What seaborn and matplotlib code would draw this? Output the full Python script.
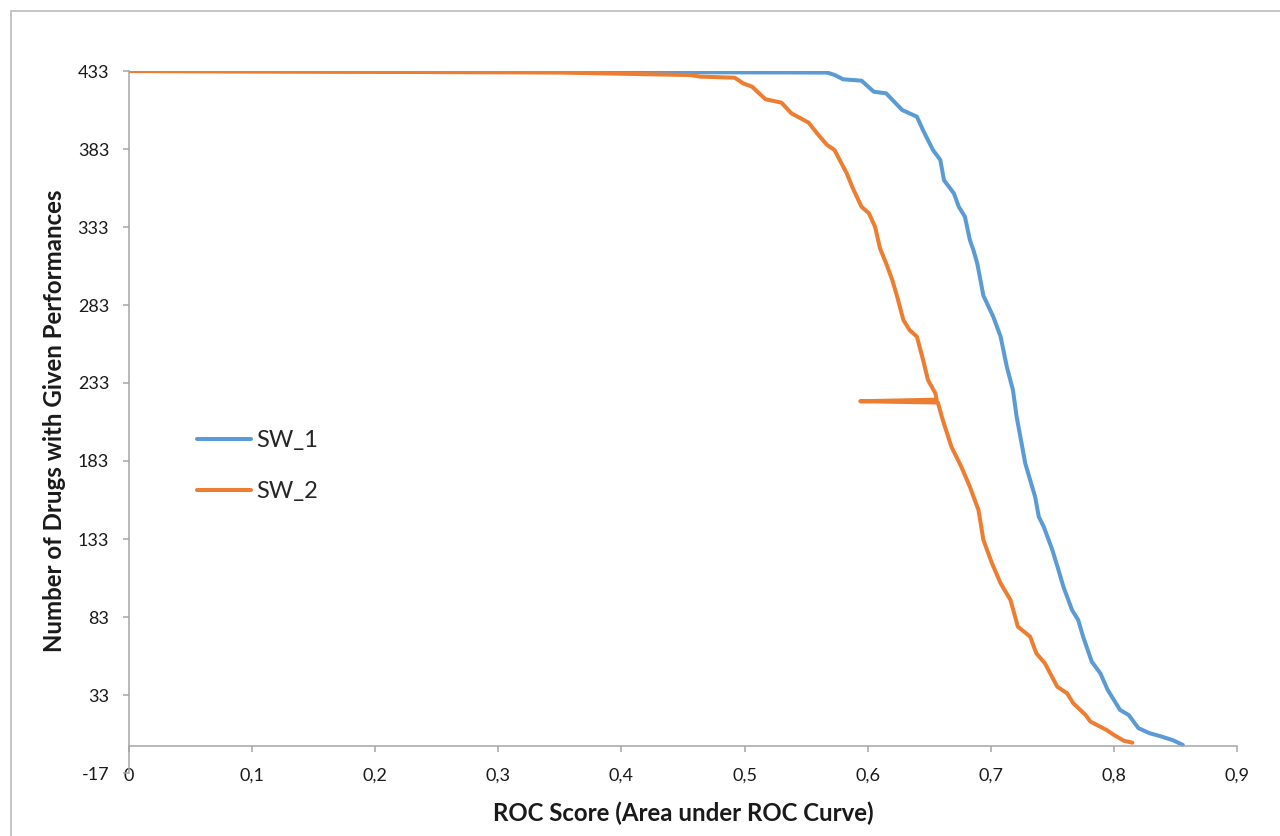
import numpy as np
import pandas as pd
import matplotlib
matplotlib.use('Agg')
import matplotlib.pyplot as plt
import seaborn as sns
from matplotlib.ticker import FuncFormatter
from matplotlib.lines import Line2D

# ---- data ----
series_names = ['SW_1', 'SW_2']
series_colors = ['#5B9BD5', '#ED7D31']

sw1_x = [0.000, 0.567, 0.573, 0.580, 0.595, 0.605, 0.615, 0.628, 0.640, 0.645,
         0.653, 0.659, 0.662, 0.670, 0.674, 0.679, 0.683, 0.686, 0.689, 0.694,
         0.702, 0.708, 0.713, 0.718, 0.721, 0.725, 0.728, 0.732, 0.736, 0.739,
         0.743, 0.750, 0.755, 0.759, 0.766, 0.771, 0.775, 0.782, 0.789, 0.795,
         0.805, 0.812, 0.820, 0.829, 0.839, 0.848, 0.856]
sw1_y = [433, 432, 430.5, 427.7, 426.8, 419.7, 418.7, 408, 403.7, 395,
         382.4, 376, 363, 354.6, 346, 339.6, 324.7, 318, 309.7, 289,
         275.5, 262.7, 243.5, 228.5, 211.4, 194.4, 181.5, 170.8, 160.1, 147.3,
         140.9, 126, 113.1, 102.4, 87.5, 81.1, 70.4, 54.4, 46.9, 36.2,
         23.4, 20.2, 11.7, 8.5, 6.3, 4, 1]

sw2_x = [0.000, 0.350, 0.456, 0.464, 0.492, 0.499, 0.506, 0.517, 0.530, 0.538,
         0.552, 0.560, 0.567, 0.573, 0.583, 0.588, 0.595, 0.601, 0.606, 0.610,
         0.615, 0.620, 0.624, 0.629, 0.634, 0.640, 0.645, 0.649, 0.655, 0.656,
         0.594, 0.657, 0.661, 0.668, 0.676, 0.683, 0.690, 0.694, 0.701, 0.708,
         0.716, 0.722, 0.732, 0.737, 0.744, 0.754, 0.762, 0.767, 0.777, 0.781,
         0.794, 0.800, 0.808, 0.815]
sw2_y = [433, 432, 430.4, 429.4, 428.7, 425, 423, 414.9, 412.7, 405.9,
         399.9, 392, 385.6, 382.4, 367.4, 357.8, 346, 341.8, 333.2, 319.4,
         309.7, 299, 288.3, 273.4, 267, 262.7, 247.8, 234.9, 226.4, 222.3,
         221.3, 220.5, 209.3, 192.2, 179.4, 166.5, 151.6, 132.4, 117.4, 104.6,
         93.9, 76.8, 70.4, 59.7, 53.3, 38.3, 34.1, 27.7, 20.2, 15.9,
         10.6, 7.4, 3.7, 2.4]

y_ticks = [-17, 33, 83, 133, 183, 233, 283, 333, 383, 433]
x_ticks = [0.0, 0.1, 0.2, 0.3, 0.4, 0.5, 0.6, 0.7, 0.8, 0.9]

x_label = 'ROC Score (Area under ROC Curve)'
y_label = 'Number of Drugs with Given Performances'

# ---- build table ----
df = pd.DataFrame({
    'x': sw1_x + sw2_x,
    'y': sw1_y + sw2_y,
    'series': [series_names[0]] * len(sw1_x) + [series_names[1]] * len(sw2_x),
})

sns.set_theme(style='white')
plt.rcParams['font.family'] = ['Lato', 'DejaVu Sans']

W, H = 1280, 836
fig = plt.figure(figsize=(W / 100, H / 100), dpi=100)
ax = fig.add_axes([129 / W, 1 - 773 / H, (1237 - 129) / W, (773 - 71) / H])

sns.lineplot(data=df, x='x', y='y', hue='series', hue_order=series_names,
             palette=dict(zip(series_names, series_colors)),
             sort=False, estimator=None, linewidth=2.9, ax=ax,
             solid_capstyle='round', solid_joinstyle='round', legend=False)

ax.set_xlim(0, 0.9)
ax.set_ylim(-17, 433)
ax.set_xticks(x_ticks)
ax.set_yticks(y_ticks)
ax.xaxis.set_major_formatter(FuncFormatter(lambda v, p: ('%g' % round(v, 2)).replace('.', ',')))
ax.yaxis.set_major_formatter(FuncFormatter(lambda v, p: '%d' % round(v)))

axis_grey = '#A6A6A6'
for s in ['top', 'right']:
    ax.spines[s].set_visible(False)
ax.spines['bottom'].set_position(('data', 0))
ax.spines['left'].set_color(axis_grey)
ax.spines['bottom'].set_color(axis_grey)
ax.spines['left'].set_linewidth(1.1)
ax.spines['bottom'].set_linewidth(1.1)
ax.tick_params(axis='x', direction='out', length=4.3, width=1.1, color=axis_grey,
               pad=11, labelsize=13, labelcolor='#1a1a1a', bottom=True)
ax.tick_params(axis='y', direction='out', length=4.3, width=1.1, color=axis_grey,
               pad=10, labelsize=13, labelcolor='#1a1a1a', left=True)
ax.set_xlabel('')
ax.set_ylabel('')
ax.grid(False)
ax.patch.set_alpha(0)

fig.text(683 / W, 1 - 813 / H, x_label, ha='center', va='center',
         fontsize=17.3, fontweight='bold', color='#1a1a1a')
fig.text(55 / W, 1 - 421 / H, y_label, ha='center', va='center', rotation=90,
         fontsize=17.3, fontweight='bold', color='#1a1a1a')

handles = [Line2D([0], [0], color=c, lw=2.9, solid_capstyle='round') for c in series_colors]
ax.legend(handles, series_names, frameon=False, loc='center left',
          bbox_to_anchor=(197 / W, 1 - 466 / H), bbox_transform=fig.transFigure,
          fontsize=17, handlelength=2.3, handletextpad=0.2, labelspacing=1.26,
          borderpad=0, borderaxespad=0)

# chart-area frame (only left and top edges visible in the reference)
fig.add_artist(Line2D([11 / W, 11 / W], [0, 1 - 11 / H], transform=fig.transFigure,
                      color='#BFBFBF', lw=1.3))
fig.add_artist(Line2D([11 / W, 1], [1 - 11 / H, 1 - 11 / H], transform=fig.transFigure,
                      color='#BFBFBF', lw=1.3))

fig.savefig('out.png', dpi=100, facecolor='white')
